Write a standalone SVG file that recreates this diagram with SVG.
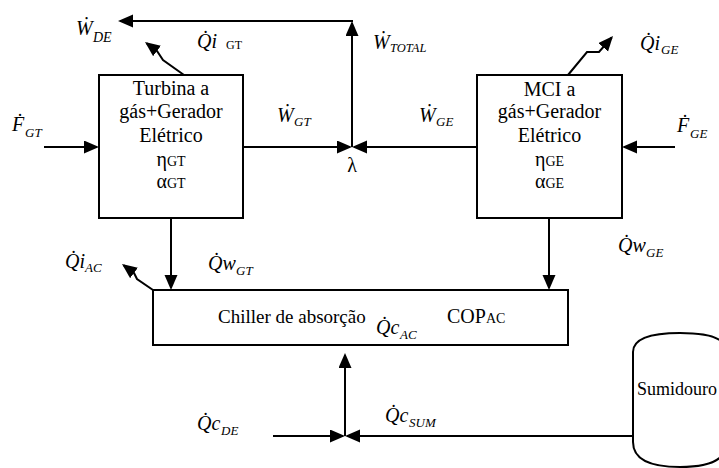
<svg xmlns="http://www.w3.org/2000/svg" width="719" height="468" viewBox="0 0 719 468">
<style>
text{font-family:'Liberation Serif','Tinos','Times New Roman','DejaVu Serif','Noto Serif',serif;fill:#000}
.box{fill:#fff;stroke:#000;stroke-width:2}
.ln{fill:none;stroke:#000;stroke-width:2;marker-end:url(#ah)}
.pl{fill:none;stroke:#000;stroke-width:2}
.t{font-size:20px}
.c{font-size:20px;text-anchor:middle}
.v{font-size:20px;font-style:italic}
.s{font-size:13px;font-style:italic}
.su{font-size:14px}
</style>
<defs>
<marker id="ah" markerUnits="userSpaceOnUse" markerWidth="16" markerHeight="14" viewBox="0 0 16 14" refX="13" refY="6.5" orient="auto">
<path d="M0,0 L15,6.5 L0,13 Z" fill="#000"/>
</marker>
</defs>
<rect width="719" height="468" fill="#fff"/>

<g id="connectors">
<path class="ln" d="M352,147 V23"/>
<path class="ln" d="M353,21 H120"/>
<path class="ln" d="M44,147 H97"/>
<path class="ln" d="M243,147 H350"/>
<path class="ln" d="M477,147 H354"/>
<path class="ln" d="M675,147 H624"/>
<path class="ln" d="M184,75 L163,60 L157,51 L146.6,43.2"/>
<path class="ln" d="M568,75 L587,52 L599,52 L611.7,37.5"/>
<path class="ln" d="M171,218 V288"/>
<path class="ln" d="M549,218 V288"/>
<path class="ln" d="M153,290 L137,279 L134,273 L123.6,265.2"/>
<path class="ln" d="M345,436 V355"/>
<path class="ln" d="M273,436 H343"/>
<path class="ln" d="M633,436 H347"/>
</g>

<g id="turbina">
<rect class="box" x="99" y="75" width="144" height="143"/>
<text class="c" x="171" y="95">Turbina a</text>
<text class="c" x="171" y="118">gás+Gerador</text>
<text class="c" x="171" y="142">Elétrico</text>
<text class="c" x="171" y="166">η<tspan class="su">GT</tspan></text>
<text class="c" x="171" y="188">α<tspan class="su">GT</tspan></text>
</g>

<g id="mci">
<rect class="box" x="477" y="75" width="145" height="143"/>
<text class="c" x="549.5" y="96">MCI a</text>
<text class="c" x="549.5" y="118">gás+Gerador</text>
<text class="c" x="549.5" y="142">Elétrico</text>
<text class="c" x="549.5" y="166">η<tspan class="su">GE</tspan></text>
<text class="c" x="549.5" y="188">α<tspan class="su">GE</tspan></text>
</g>

<g id="chiller">
<rect class="box" x="153" y="290" width="415" height="55"/>
<text class="t" x="218" y="323" style="font-size:19px">Chiller de absorção</text>
<text class="t" x="447" y="323">COP<tspan class="su">AC</tspan></text>
</g>

<g id="sumidouro">
<path class="pl" d="M633,352 Q633,333 680,333 Q727,333 727,352 V442 Q727,467 680,467 Q633,467 633,442 Z" fill="#fff"/>
<text class="t" x="637" y="395" style="font-size:18px">Sumidouro</text>
</g>

<g id="juncao">
<text class="c" x="352" y="172">λ</text>
</g>

<g id="labels">
<text x="76" y="35"><tspan class="v">Ẇ</tspan><tspan class="s" style="font-size:14px" x="93" y="42">DE</tspan></text>
<text x="197" y="48"><tspan class="v">Q̇i</tspan><tspan style="font-size:12px" x="226" y="49">GT</tspan></text>
<text x="12" y="131"><tspan class="v">Ḟ</tspan><tspan class="s" x="25" y="137">GT</tspan></text>
<text x="277" y="122"><tspan class="v">Ẇ</tspan><tspan class="s" x="294" y="126">GT</tspan></text>
<text x="373" y="49"><tspan class="v">Ẇ</tspan><tspan class="s" style="font-size:12.5px" x="390" y="52">TOTAL</tspan></text>
<text x="419" y="122"><tspan class="v">Ẇ</tspan><tspan class="s" x="436" y="126">GE</tspan></text>
<text x="640" y="50"><tspan class="v">Q̇i</tspan><tspan class="s" x="661" y="54">GE</tspan></text>
<text x="677" y="132"><tspan class="v">Ḟ</tspan><tspan class="s" x="690" y="138">GE</tspan></text>
<text x="65" y="268"><tspan class="v">Q̇i</tspan><tspan class="s" x="85" y="272">AC</tspan></text>
<text x="208" y="270"><tspan class="v">Q̇w</tspan><tspan class="s" x="236" y="275">GT</tspan></text>
<text x="618" y="252"><tspan class="v">Q̇w</tspan><tspan class="s" x="646" y="257">GE</tspan></text>
<text x="376" y="334"><tspan class="v">Q̇c</tspan><tspan class="s" x="400" y="339">AC</tspan></text>
<text x="197" y="430"><tspan class="v">Q̇c</tspan><tspan class="s" x="221" y="435">DE</tspan></text>
<text x="385" y="422"><tspan class="v">Q̇c</tspan><tspan class="s" x="409" y="427">SUM</tspan></text>
</g>
</svg>
